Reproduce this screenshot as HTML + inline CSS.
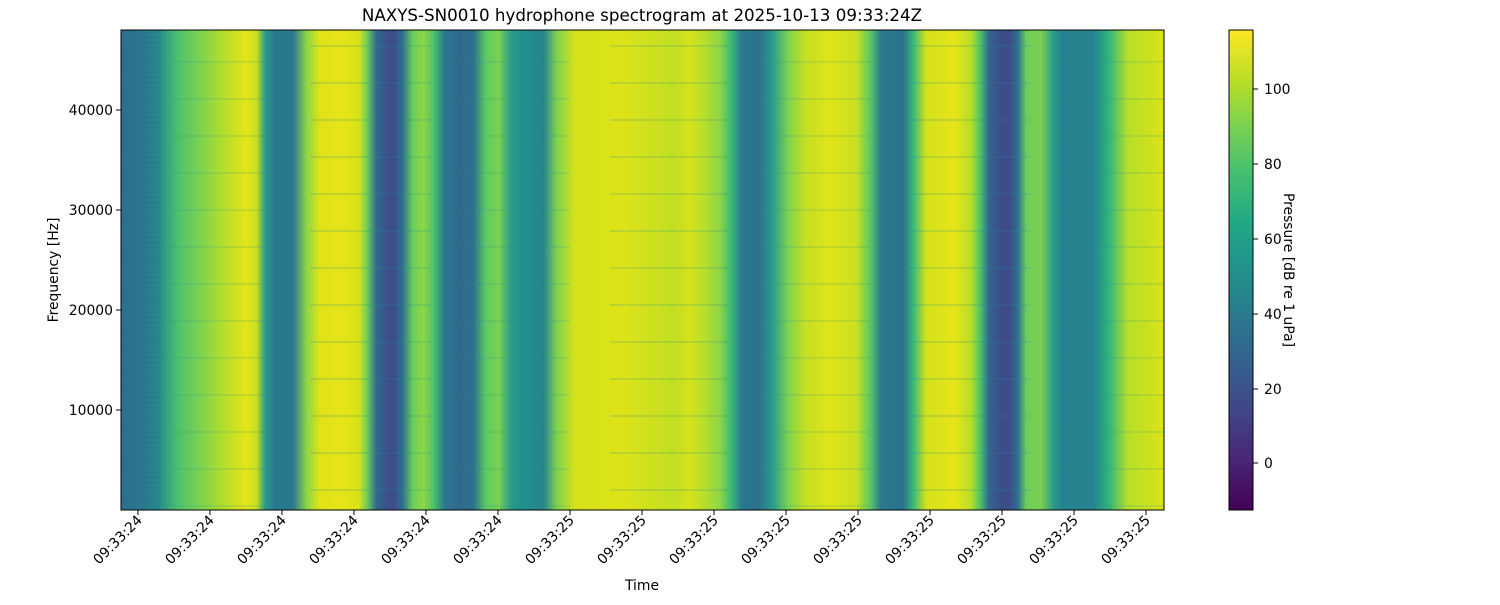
<!DOCTYPE html>
<html><head><meta charset="utf-8"><style>
body{margin:0;background:#fff;}
svg text{font-family:"DejaVu Sans","Liberation Sans",sans-serif;font-size:13.9px;fill:#000}
</style></head><body>
<svg width="1500" height="600" viewBox="0 0 1500 600" xmlns="http://www.w3.org/2000/svg">
<defs>
<linearGradient id="sp" x1="121" x2="1164" y1="0" y2="0" gradientUnits="userSpaceOnUse">
<stop offset="0" stop-color="#2c6f8e"/>
<stop offset="0.02" stop-color="#2a788e"/>
<stop offset="0.035" stop-color="#25868d"/>
<stop offset="0.055" stop-color="#4cc26c"/>
<stop offset="0.075" stop-color="#7ad151"/>
<stop offset="0.1" stop-color="#b8de29"/>
<stop offset="0.12" stop-color="#e5e419"/>
<stop offset="0.13" stop-color="#c8e020"/>
<stop offset="0.138" stop-color="#2a9d8a"/>
<stop offset="0.148" stop-color="#2a788e"/>
<stop offset="0.165" stop-color="#2a788e"/>
<stop offset="0.178" stop-color="#8ad546"/>
<stop offset="0.19" stop-color="#dde318"/>
<stop offset="0.21" stop-color="#e7e419"/>
<stop offset="0.228" stop-color="#d8e219"/>
<stop offset="0.236" stop-color="#6ccd5a"/>
<stop offset="0.245" stop-color="#31688e"/>
<stop offset="0.254" stop-color="#3b528b"/>
<stop offset="0.262" stop-color="#3e4c8a"/>
<stop offset="0.27" stop-color="#2c718e"/>
<stop offset="0.28" stop-color="#6ccd5a"/>
<stop offset="0.29" stop-color="#8ed645"/>
<stop offset="0.3" stop-color="#4cc26c"/>
<stop offset="0.31" stop-color="#2a788e"/>
<stop offset="0.325" stop-color="#30698e"/>
<stop offset="0.338" stop-color="#2d718e"/>
<stop offset="0.35" stop-color="#5ec962"/>
<stop offset="0.362" stop-color="#7ad151"/>
<stop offset="0.374" stop-color="#2a9d8a"/>
<stop offset="0.384" stop-color="#21918c"/>
<stop offset="0.405" stop-color="#26838e"/>
<stop offset="0.418" stop-color="#7fd34e"/>
<stop offset="0.435" stop-color="#d5e21a"/>
<stop offset="0.48" stop-color="#dde318"/>
<stop offset="0.53" stop-color="#c2df23"/>
<stop offset="0.545" stop-color="#d5e21a"/>
<stop offset="0.56" stop-color="#b5de2b"/>
<stop offset="0.574" stop-color="#8ed645"/>
<stop offset="0.585" stop-color="#3bbb75"/>
<stop offset="0.595" stop-color="#2a788e"/>
<stop offset="0.612" stop-color="#2c728e"/>
<stop offset="0.625" stop-color="#2a9d8a"/>
<stop offset="0.64" stop-color="#7fd34e"/>
<stop offset="0.655" stop-color="#c2df23"/>
<stop offset="0.68" stop-color="#e2e418"/>
<stop offset="0.705" stop-color="#c8e020"/>
<stop offset="0.718" stop-color="#5ec962"/>
<stop offset="0.729" stop-color="#2a788e"/>
<stop offset="0.75" stop-color="#2c728e"/>
<stop offset="0.76" stop-color="#3bbb75"/>
<stop offset="0.772" stop-color="#d5e21a"/>
<stop offset="0.8" stop-color="#e5e419"/>
<stop offset="0.815" stop-color="#b8de29"/>
<stop offset="0.824" stop-color="#4cc26c"/>
<stop offset="0.832" stop-color="#31688e"/>
<stop offset="0.84" stop-color="#3b528b"/>
<stop offset="0.852" stop-color="#3e4a89"/>
<stop offset="0.86" stop-color="#2c718e"/>
<stop offset="0.868" stop-color="#6ccd5a"/>
<stop offset="0.882" stop-color="#7ad151"/>
<stop offset="0.894" stop-color="#2a9d8a"/>
<stop offset="0.902" stop-color="#26828e"/>
<stop offset="0.932" stop-color="#26828e"/>
<stop offset="0.947" stop-color="#2fb47c"/>
<stop offset="0.965" stop-color="#b5de2b"/>
<stop offset="1" stop-color="#dce318"/>
</linearGradient>
<linearGradient id="cb" x1="0" x2="0" y1="1" y2="0">
<stop offset="0" stop-color="#440154"/>
<stop offset="0.1" stop-color="#482475"/>
<stop offset="0.2" stop-color="#414487"/>
<stop offset="0.3" stop-color="#355f8d"/>
<stop offset="0.4" stop-color="#2a788e"/>
<stop offset="0.5" stop-color="#21918c"/>
<stop offset="0.6" stop-color="#22a884"/>
<stop offset="0.7" stop-color="#44bf70"/>
<stop offset="0.8" stop-color="#7ad151"/>
<stop offset="0.9" stop-color="#bddf26"/>
<stop offset="1" stop-color="#fde725"/>
</linearGradient>
<pattern id="streak" width="300" height="37" patternUnits="userSpaceOnUse">
<rect x="10" y="8" width="120" height="2" fill="#21918c" opacity="0.18"/>
<rect x="160" y="24" width="110" height="2" fill="#21918c" opacity="0.15"/>
</pattern>
<pattern id="fine" width="4" height="5" patternUnits="userSpaceOnUse">
<rect x="0" y="2" width="4" height="1" fill="#2c5f8e" opacity="0.2"/>
</pattern>
</defs>
<rect x="121" y="30" width="1043" height="480" fill="url(#sp)"/>
<rect x="121" y="30" width="1043" height="480" fill="url(#streak)"/>
<rect x="121" y="30" width="40" height="480" fill="url(#fine)"/>
<rect x="121" y="30" width="1043" height="480" fill="none" stroke="#000" stroke-width="1"/>
<text x="642" y="21" text-anchor="middle" style="font-size:16.7px">NAXYS-SN0010 hydrophone spectrogram at 2025-10-13 09:33:24Z</text>
<g stroke="#000">
<line x1="116" x2="121" y1="110" y2="110"/><line x1="116" x2="121" y1="210" y2="210"/><line x1="116" x2="121" y1="310" y2="310"/><line x1="116" x2="121" y1="410" y2="410"/>
</g>
<g text-anchor="end">
<text x="113" y="115">40000</text><text x="113" y="215">30000</text><text x="113" y="315">20000</text><text x="113" y="415">10000</text>
</g>
<text transform="translate(58,270) rotate(-90)" text-anchor="middle">Frequency [Hz]</text>
<text x="642" y="590" text-anchor="middle">Time</text>
<g stroke="#000">
<line x1="138" x2="138" y1="510" y2="515"/><line x1="210" x2="210" y1="510" y2="515"/><line x1="282" x2="282" y1="510" y2="515"/><line x1="354" x2="354" y1="510" y2="515"/><line x1="426" x2="426" y1="510" y2="515"/><line x1="498" x2="498" y1="510" y2="515"/><line x1="570" x2="570" y1="510" y2="515"/><line x1="642" x2="642" y1="510" y2="515"/><line x1="714" x2="714" y1="510" y2="515"/><line x1="786" x2="786" y1="510" y2="515"/><line x1="858" x2="858" y1="510" y2="515"/><line x1="930" x2="930" y1="510" y2="515"/><line x1="1002" x2="1002" y1="510" y2="515"/><line x1="1074" x2="1074" y1="510" y2="515"/><line x1="1146" x2="1146" y1="510" y2="515"/>
</g>
<g text-anchor="end">
<text transform="translate(143,521) rotate(-45)">09:33:24</text>
<text transform="translate(215,521) rotate(-45)">09:33:24</text>
<text transform="translate(287,521) rotate(-45)">09:33:24</text>
<text transform="translate(359,521) rotate(-45)">09:33:24</text>
<text transform="translate(431,521) rotate(-45)">09:33:24</text>
<text transform="translate(503,521) rotate(-45)">09:33:24</text>
<text transform="translate(575,521) rotate(-45)">09:33:25</text>
<text transform="translate(647,521) rotate(-45)">09:33:25</text>
<text transform="translate(719,521) rotate(-45)">09:33:25</text>
<text transform="translate(791,521) rotate(-45)">09:33:25</text>
<text transform="translate(863,521) rotate(-45)">09:33:25</text>
<text transform="translate(935,521) rotate(-45)">09:33:25</text>
<text transform="translate(1007,521) rotate(-45)">09:33:25</text>
<text transform="translate(1079,521) rotate(-45)">09:33:25</text>
<text transform="translate(1151,521) rotate(-45)">09:33:25</text>
</g>
<rect x="1229" y="30" width="24" height="480" fill="url(#cb)" stroke="#000" stroke-width="1"/>
<g stroke="#000">
<line x1="1253" x2="1258" y1="89" y2="89"/><line x1="1253" x2="1258" y1="164" y2="164"/><line x1="1253" x2="1258" y1="239" y2="239"/><line x1="1253" x2="1258" y1="314" y2="314"/><line x1="1253" x2="1258" y1="389" y2="389"/><line x1="1253" x2="1258" y1="463" y2="463"/>
</g>
<text x="1264" y="94">100</text><text x="1264" y="169">80</text><text x="1264" y="244">60</text><text x="1264" y="319">40</text><text x="1264" y="394">20</text><text x="1264" y="468">0</text>
<text transform="translate(1284,270) rotate(90)" text-anchor="middle">Pressure [dB re 1 uPa]</text>
</svg>
</body></html>
